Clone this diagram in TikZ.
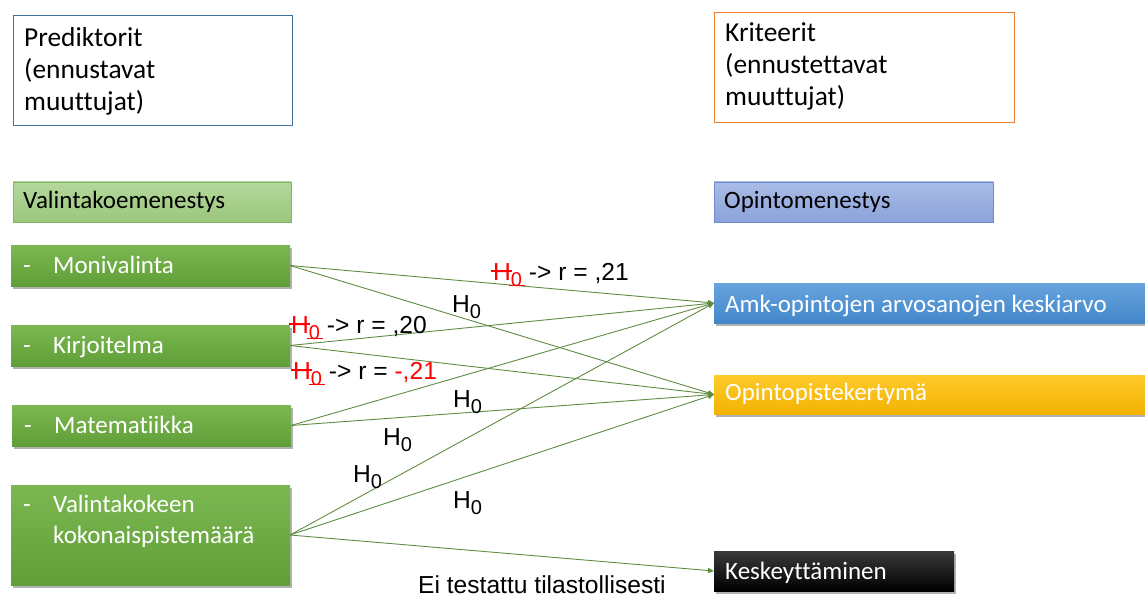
\documentclass[tikz,border=0pt]{standalone}
\usepackage{fontspec}
\setmainfont{Carlito}[Ligatures=NoCommon]
\newfontfamily\arialf{Liberation Sans}
\usetikzlibrary{arrows.meta,shadows}
\definecolor{predb}{RGB}{65,113,156}
\definecolor{kritb}{RGB}{237,125,49}
\definecolor{lgtop}{RGB}{181,216,157}
\definecolor{lgbot}{RGB}{152,199,122}
\definecolor{lgbd}{RGB}{134,181,95}
\definecolor{lbtop}{RGB}{170,188,230}
\definecolor{lbbot}{RGB}{138,163,218}
\definecolor{lbbd}{RGB}{108,140,204}
\definecolor{gtop}{RGB}{124,184,82}
\definecolor{gbot}{RGB}{96,158,56}
\definecolor{btop}{RGB}{104,164,222}
\definecolor{bbot}{RGB}{66,134,202}
\definecolor{ytop}{RGB}{255,202,44}
\definecolor{ybot}{RGB}{242,178,0}
\definecolor{ktop}{RGB}{58,58,58}
\definecolor{kbot}{RGB}{0,0,0}
\definecolor{conc}{RGB}{96,140,66}
\newcommand{\subz}[1]{\raisebox{-0.27em}{\fontsize{20}{20}\selectfont #1}}
\newcommand{\hnull}{H\subz{0}}
\newcommand{\hstrike}{\textcolor{red}{\makebox[0pt][l]{\hspace{-0.1em}\rule[0.34em]{0.85em}{0.05em}}H\subz{\makebox[0pt][l]{\hspace{-0.1em}\rule[0.02em]{0.8em}{0.07em}}0}}}
\begin{document}
\begin{tikzpicture}[x=1pt,y=-1pt,
  box/.style={anchor=north west, inner sep=0pt, outer sep=0pt},
  shd/.style={drop shadow={shadow xshift=1.5pt,shadow yshift=-2.5pt,opacity=0.3,fill=black}},
  gbox/.style={box, shd, top color=gtop, bottom color=gbot, minimum width=279pt},
  txt/.style={anchor=base west, inner sep=0pt, font=\fontsize{25}{32}\selectfont},
  htxt/.style={anchor=base west, inner sep=0pt, align=left, font=\fontsize{27.4}{32}\selectfont},
  wtxt/.style={txt, text=white},
  lab/.style={anchor=base west, inner sep=0pt, font=\arialf\fontsize{24.6}{28}\selectfont},
  conn/.style={draw=conc, line width=0.9pt, -{Triangle[length=6pt,width=5pt]}}
]
\useasboundingbox (0,0) rectangle (1145,596);
% header boxes
\node[box, draw=predb, line width=0.8pt, minimum width=279pt, minimum height=110pt] (pred) at (13,15) {};
\node[htxt] (predt) at (24,111) {Prediktorit\\(ennustavat\\muuttujat)};
\node[box, draw=kritb, line width=0.8pt, minimum width=300pt, minimum height=110pt] (krit) at (714,12) {};
\node[htxt] (kritt) at (725,106) {Kriteerit\\(ennustettavat\\muuttujat)};
\node[box, draw=lgbd, top color=lgtop, bottom color=lgbot, minimum width=278pt, minimum height=40pt] (valk) at (13,182) {};
\node[txt] (valkt) at (23,208) {Valintakoemenestys};
\node[box, draw=lbbd, top color=lbtop, bottom color=lbbot, minimum width=279pt, minimum height=40pt] (opm) at (714,182) {};
\node[txt] (opmt) at (724,208) {Opintomenestys};
% predictor boxes
\node[gbox, minimum height=41pt] (mon) at (11,245) {};
\node[wtxt] (mont) at (23,273) {\makebox[30pt][l]{-}Monivalinta};
\node[gbox, minimum height=41pt] (kir) at (11,325) {};
\node[wtxt] (kirt) at (23,353) {\makebox[30pt][l]{-}Kirjoitelma};
\node[gbox, minimum height=41pt] (mat) at (12,405) {};
\node[wtxt] (matt) at (24,433) {\makebox[30pt][l]{-}Matematiikka};
\node[gbox, minimum height=100pt] (vk) at (11,485) {};
\node[wtxt] (vkt1) at (23,512) {\makebox[30pt][l]{-}Valintakokeen};
\node[wtxt] (vkt2) at (53,543) {kokonaispistemäärä};
% criterion boxes
\node[box, shd, top color=btop, bottom color=bbot, minimum width=440pt, minimum height=40pt] (amk) at (714,283) {};
\node[wtxt] (amkt) at (725,312) {Amk-opintojen arvosanojen keskiarvo};
\node[box, shd, top color=ytop, bottom color=ybot, minimum width=440pt, minimum height=39pt] (opp) at (714,375) {};
\node[wtxt] (oppt) at (725,400) {Opintopistekertymä};
\node[box, shd, top color=ktop, bottom color=kbot, minimum width=240pt, minimum height=40pt] (kes) at (714,551) {};
\node[wtxt] (kest) at (725,579) {Keskeyttäminen};
% connectors
\draw[conn] (mon.east) -- (amk.west);
\draw[conn] (mon.east) -- (opp.west);
\draw[conn] (kir.east) -- (amk.west);
\draw[conn] (kir.east) -- (opp.west);
\draw[conn] (mat.east) -- (amk.west);
\draw[conn] (mat.east) -- (opp.west);
\draw[conn] (vk.east) -- (amk.west);
\draw[conn] (vk.east) -- (opp.west);
\draw[conn] (vk.east) -- (kes.west);
% labels
\node[lab] (l1) at (493,280) {\hstrike{} -> r = ,21};
\node[lab] (l2) at (452,312) {\hnull};
\node[lab] (l3) at (291,333) {\hstrike{} -> r = ,20};
\node[lab] (l4) at (293,379) {\hstrike{} -> r = \textcolor{red}{-,21}};
\node[lab] (l5) at (453,407) {\hnull};
\node[lab] (l6) at (383,445) {\hnull};
\node[lab] (l7) at (353,482) {\hnull};
\node[lab] (l8) at (453,508) {\hnull};
\node[lab] (l9) at (418,593) {Ei testattu tilastollisesti};
\end{tikzpicture}
\end{document}
